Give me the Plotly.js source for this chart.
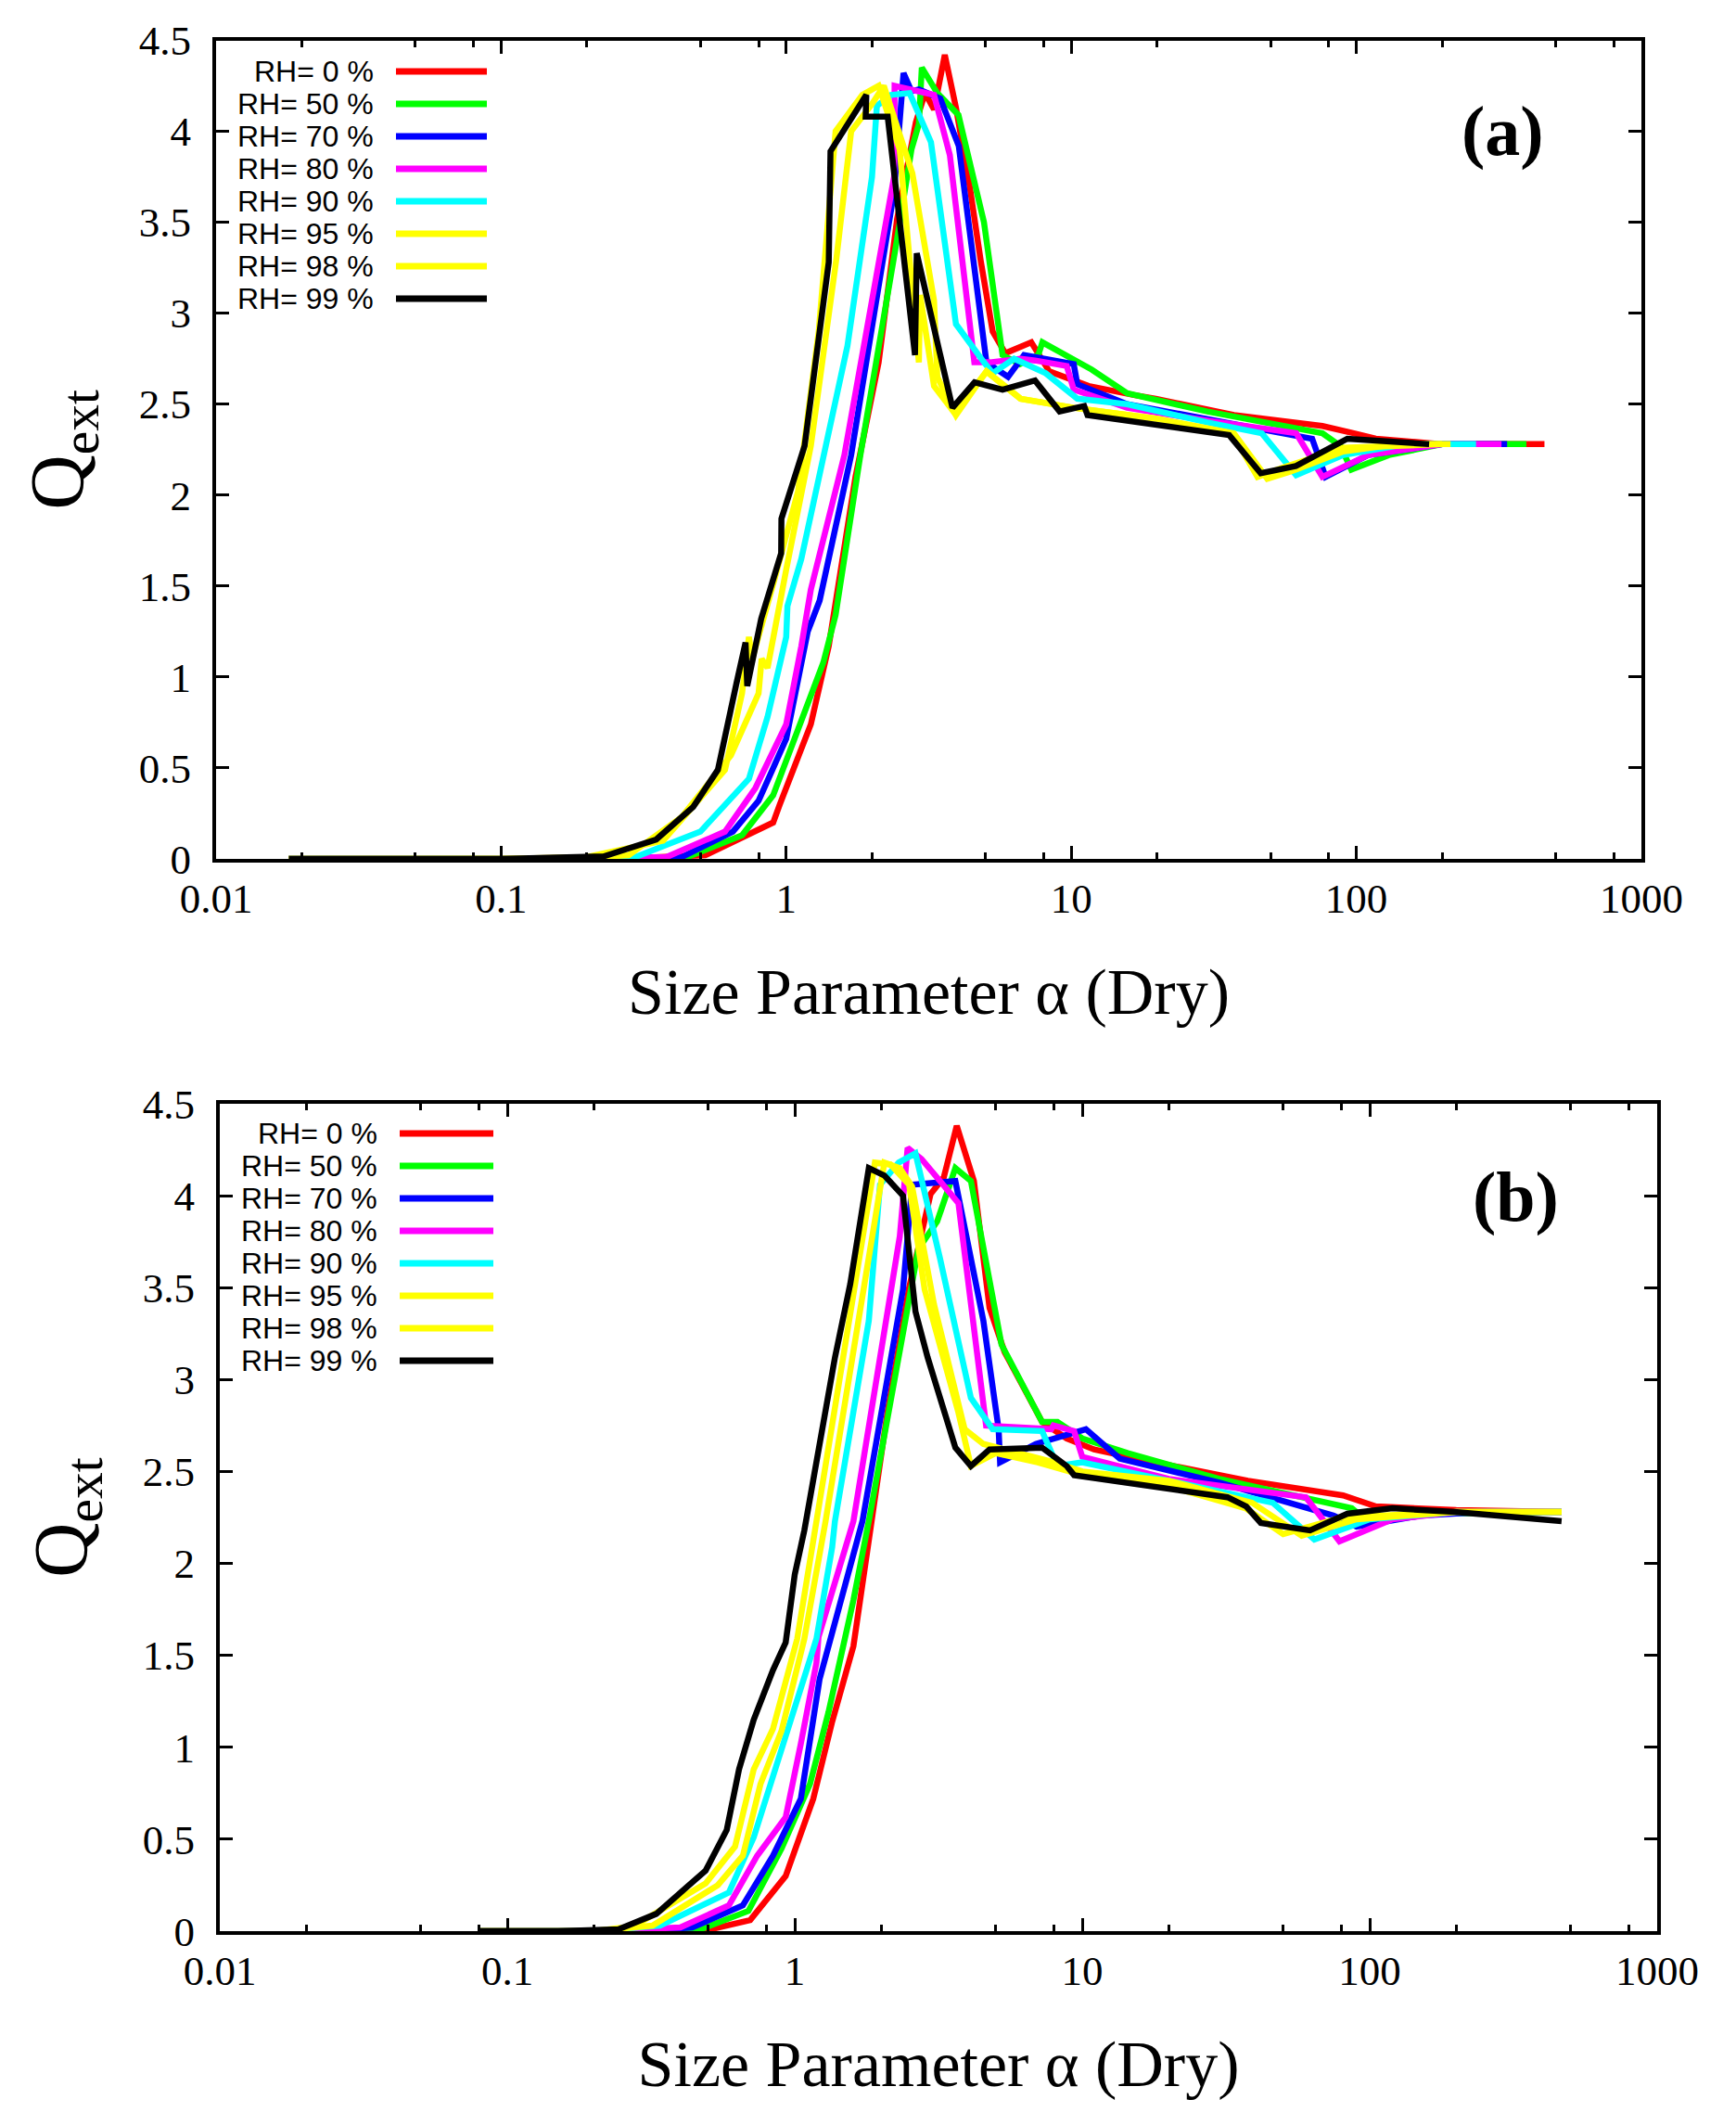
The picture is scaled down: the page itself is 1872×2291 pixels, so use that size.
<!DOCTYPE html>
<html>
<head>
<meta charset="utf-8">
<script src="https://cdn.plot.ly/plotly-3.0.1.min.js"></script>
<style>
  body { margin: 0; background: #fff; }
  #chart { width: 1872px; height: 2291px; }
</style>
</head>
<body>
<div id="chart"></div>
<script>
// legend labels and colours, drawn in this order (red first, black on top)
var rhLabels = ['RH= 0 %', 'RH= 50 %', 'RH= 70 %', 'RH= 80 %', 'RH= 90 %', 'RH= 95 %', 'RH= 98 %', 'RH= 99 %'];
var rhColors = ['#ff0000', '#00ff00', '#0000ff', '#ff00ff', '#00ffff', '#ffff00', '#ffff00', '#000000'];

// x axis ticks (log scale)
var xTickVals = [0.01, 0.1, 1, 10, 100, 1000];
var xTickText = ['0.01', '0.1', '1', '10', '100', '1000'];
var xMinorVals = [0.02, 0.05, 0.08, 0.2, 0.5, 0.8, 2, 5, 8, 20, 50, 80, 200, 500, 800];

// ---- panel (a) ----
var a_rh0_x = [0.018, 0.1, 0.3, 0.52, 0.74, 0.90, 0.95, 1.22, 1.41, 1.49, 1.75, 2.11, 2.45, 2.85, 3.07, 3.3, 3.6, 3.94, 4.4, 4.81, 5.3, 5.87, 6.66, 7.24, 8.37, 11.5, 16.6, 19.8, 37.2, 76, 98, 117, 200, 457];
var a_rh0_y = [0, 0, 0.005, 0.02, 0.13, 0.20, 0.30, 0.74, 1.17, 1.42, 2.1, 2.73, 3.52, 4.05, 4.21, 4.12, 4.42, 4.13, 3.7, 3.29, 2.9, 2.78, 2.82, 2.84, 2.68, 2.6, 2.55, 2.53, 2.44, 2.38, 2.34, 2.31, 2.28, 2.28];

var a_rh50_x = [0.018, 0.1, 0.25, 0.45, 0.70, 0.90, 1.16, 1.35, 1.49, 1.82, 2.45, 2.75, 2.92, 2.99, 3.39, 4.02, 4.94, 5.74, 6.6, 7.66, 7.92, 11.8, 15.7, 30, 76, 88, 96, 130, 200, 395];
var a_rh50_y = [0, 0, 0.005, 0.01, 0.13, 0.35, 0.80, 1.08, 1.34, 2.22, 3.41, 3.9, 4.04, 4.35, 4.21, 4.09, 3.5, 2.77, 2.72, 2.77, 2.84, 2.69, 2.56, 2.46, 2.34, 2.27, 2.14, 2.22, 2.28, 2.28];

var a_rh70_x = [0.018, 0.1, 0.25, 0.43, 0.65, 0.80, 1.0, 1.19, 1.31, 1.69, 2.39, 2.58, 2.75, 2.92, 3.47, 4.03, 5.04, 6.0, 6.83, 10.2, 10.5, 15.7, 30, 70, 78, 110, 200, 338];
var a_rh70_y = [0, 0, 0.005, 0.01, 0.15, 0.32, 0.66, 1.25, 1.42, 2.22, 3.67, 4.32, 4.22, 4.23, 4.18, 3.92, 2.73, 2.65, 2.77, 2.72, 2.61, 2.50, 2.42, 2.31, 2.10, 2.22, 2.28, 2.28];

var a_rh80_x = [0.018, 0.1, 0.22, 0.38, 0.61, 0.78, 1.0, 1.13, 1.22, 1.6, 2.39, 2.40, 2.77, 3.3, 3.75, 4.57, 5.19, 6.64, 7.46, 9.64, 10.2, 15.7, 30, 61.5, 76, 110, 200, 323];
var a_rh80_y = [0, 0, 0.005, 0.01, 0.15, 0.39, 0.74, 1.17, 1.48, 2.22, 3.75, 4.25, 4.23, 4.2, 3.87, 2.73, 2.73, 2.75, 2.74, 2.71, 2.58, 2.48, 2.41, 2.34, 2.10, 2.22, 2.28, 2.28];

var a_rh90_x = [0.018, 0.1, 0.18, 0.30, 0.50, 0.74, 0.86, 1.0, 1.01, 1.13, 1.31, 1.64, 2.0, 2.08, 2.33, 2.71, 3.22, 3.94, 4.94, 5.3, 6.3, 8.13, 10.5, 15.7, 30, 46.6, 61.5, 90, 150, 263];
var a_rh90_y = [0, 0, 0.002, 0.014, 0.15, 0.44, 0.78, 1.22, 1.39, 1.65, 2.10, 2.82, 3.75, 4.14, 4.2, 4.21, 3.94, 2.94, 2.73, 2.67, 2.75, 2.67, 2.53, 2.50, 2.40, 2.34, 2.11, 2.22, 2.28, 2.28];

var a_rh95_x = [0.018, 0.1, 0.17, 0.28, 0.43, 0.64, 0.80, 0.82, 0.86, 1.0, 1.22, 1.5, 1.69, 2.0, 2.2, 2.77, 3.3, 3.39, 3.94, 5.04, 6.64, 10.2, 20, 37.2, 48.7, 59, 90, 140, 214];
var a_rh95_y = [0, 0, 0.002, 0.02, 0.23, 0.57, 0.91, 1.1, 1.05, 1.59, 2.27, 3.3, 4.0, 4.15, 4.25, 3.77, 3.07, 2.65, 2.44, 2.68, 2.53, 2.48, 2.42, 2.34, 2.09, 2.13, 2.24, 2.28, 2.28];

var a_rh98_x = [0.018, 0.1, 0.2, 0.37, 0.61, 0.70, 0.74, 0.76, 0.9, 1.1, 1.3, 1.49, 1.85, 2.11, 2.5, 2.92, 2.95, 3.3, 3.9, 5.04, 6.64, 10.2, 20, 37, 45, 55, 90, 200];
var a_rh98_y = [0, 0, 0.01, 0.1, 0.49, 0.91, 1.22, 1.1, 1.51, 2.02, 2.9, 4.0, 4.2, 4.25, 3.9, 2.73, 3.1, 2.6, 2.45, 2.68, 2.53, 2.48, 2.42, 2.33, 2.1, 2.15, 2.26, 2.28];

var a_rh99_x = [0.018, 0.1, 0.229, 0.35, 0.472, 0.576, 0.669, 0.72, 0.73, 0.817, 0.96, 0.962, 1.16, 1.41, 1.43, 1.91, 1.90, 2.27, 2.83, 2.87, 3.83, 4.58, 5.74, 7.46, 9.1, 11.1, 11.4, 22.8, 35.8, 46.2, 61.4, 93, 180];
var a_rh99_y = [0, 0, 0.014, 0.107, 0.286, 0.49, 0.965, 1.19, 0.95, 1.32, 1.68, 1.87, 2.27, 3.28, 3.89, 4.20, 4.08, 4.08, 2.77, 3.33, 2.48, 2.62, 2.58, 2.63, 2.46, 2.49, 2.44, 2.37, 2.33, 2.12, 2.16, 2.31, 2.28];

// ---- panel (b) ----
var b_rh0_x = [0.08, 0.2, 0.35, 0.51, 0.7, 0.93, 1.16, 1.35, 1.6, 2.10, 2.5, 2.97, 3.3, 3.66, 4.2, 4.76, 5.37, 7.25, 8.83, 11, 16.6, 37.7, 80.8, 105, 200, 465];
var b_rh0_y = [0, 0, 0.003, 0.01, 0.06, 0.30, 0.72, 1.14, 1.55, 2.82, 3.5, 4.01, 4.1, 4.38, 4.08, 3.39, 3.15, 2.77, 2.68, 2.62, 2.56, 2.45, 2.37, 2.31, 2.29, 2.28];

var b_rh50_x = [0.08, 0.2, 0.3, 0.47, 0.69, 0.90, 1.13, 1.31, 1.6, 1.81, 2.44, 2.69, 3.13, 3.62, 4.1, 5.24, 7.25, 8.2, 10, 14.4, 30, 86.6, 100, 160, 465];
var b_rh50_y = [0, 0, 0.003, 0.01, 0.11, 0.45, 0.80, 1.19, 1.8, 2.23, 3.32, 3.71, 3.86, 4.15, 4.08, 3.19, 2.77, 2.77, 2.68, 2.6, 2.46, 2.30, 2.22, 2.27, 2.28];

var b_rh70_x = [0.08, 0.2, 0.3, 0.44, 0.66, 0.84, 1.05, 1.22, 1.5, 1.72, 2.38, 2.56, 3.62, 4.53, 5.12, 5.18, 6.9, 10.3, 13.5, 30, 75, 90, 150, 250, 465];
var b_rh70_y = [0, 0, 0.003, 0.02, 0.14, 0.41, 0.72, 1.37, 1.9, 2.23, 3.49, 4.06, 4.08, 3.32, 2.73, 2.55, 2.65, 2.73, 2.57, 2.44, 2.26, 2.2, 2.26, 2.28, 2.28];

var b_rh80_x = [0.08, 0.2, 0.40, 0.59, 0.74, 0.93, 1.05, 1.19, 1.21, 1.6, 2.32, 2.47, 2.76, 3.71, 4.63, 7.8, 7.94, 9.37, 10.0, 20, 60, 78.5, 120, 200, 465];
var b_rh80_y = [0, 0, 0.02, 0.14, 0.41, 0.62, 1.02, 1.46, 1.6, 2.23, 3.78, 4.26, 4.2, 3.96, 2.75, 2.73, 2.75, 2.72, 2.58, 2.46, 2.36, 2.12, 2.24, 2.28, 2.28];

var b_rh90_x = [0.08, 0.2, 0.34, 0.59, 0.72, 0.88, 1.0, 1.19, 1.35, 1.38, 1.81, 1.98, 2.3, 2.63, 3.2, 4.1, 4.88, 7.25, 8.2, 10, 20, 46, 64.2, 100, 200, 465];
var b_rh90_y = [0, 0, 0.03, 0.21, 0.51, 0.95, 1.22, 1.59, 2.09, 2.23, 3.32, 4.06, 4.18, 4.23, 3.66, 2.90, 2.73, 2.72, 2.53, 2.55, 2.45, 2.33, 2.13, 2.24, 2.28, 2.28];

var b_rh95_x = [0.08, 0.2, 0.32, 0.54, 0.66, 0.76, 0.90, 1.08, 1.28, 1.6, 2.05, 2.32, 2.56, 3.05, 3.9, 4.53, 6, 8, 10, 20, 39, 58, 90, 200, 465];
var b_rh95_y = [0, 0, 0.03, 0.25, 0.41, 0.80, 1.09, 1.59, 2.23, 3.15, 4.18, 4.15, 4.05, 3.41, 2.73, 2.65, 2.6, 2.55, 2.5, 2.45, 2.33, 2.15, 2.24, 2.28, 2.28];

var b_rh98_x = [0.08, 0.2, 0.276, 0.49, 0.62, 0.72, 0.84, 1.02, 1.19, 1.5, 1.90, 2.15, 2.5, 2.83, 3.71, 4.1, 5, 7, 10, 20, 37, 50, 80, 200, 465];
var b_rh98_y = [0, 0, 0.027, 0.26, 0.46, 0.88, 1.1, 1.59, 2.23, 3.2, 4.18, 4.17, 4.06, 3.49, 2.82, 2.53, 2.6, 2.55, 2.48, 2.42, 2.3, 2.16, 2.25, 2.28, 2.28];

var b_rh99_x = [0.08, 0.15, 0.244, 0.33, 0.49, 0.58, 0.64, 0.72, 0.84, 0.93, 1.0, 1.08, 1.38, 1.56, 1.81, 2.05, 2.38, 2.63, 2.90, 3.62, 4.1, 4.76, 7.25, 8.83, 9.37, 14.4, 32, 37.2, 41.8, 62, 83.6, 120, 197, 465];
var b_rh99_y = [0, 0, 0.01, 0.094, 0.33, 0.55, 0.88, 1.15, 1.42, 1.57, 1.94, 2.18, 3.12, 3.52, 4.15, 4.11, 4.0, 3.37, 3.12, 2.63, 2.53, 2.62, 2.63, 2.53, 2.48, 2.44, 2.36, 2.31, 2.22, 2.18, 2.27, 2.30, 2.28, 2.23];

var panelA = [[a_rh0_x, a_rh0_y], [a_rh50_x, a_rh50_y], [a_rh70_x, a_rh70_y], [a_rh80_x, a_rh80_y],
              [a_rh90_x, a_rh90_y], [a_rh95_x, a_rh95_y], [a_rh98_x, a_rh98_y], [a_rh99_x, a_rh99_y]];
var panelB = [[b_rh0_x, b_rh0_y], [b_rh50_x, b_rh50_y], [b_rh70_x, b_rh70_y], [b_rh80_x, b_rh80_y],
              [b_rh90_x, b_rh90_y], [b_rh95_x, b_rh95_y], [b_rh98_x, b_rh98_y], [b_rh99_x, b_rh99_y]];

// page is 1872 x 2291, positions below are in page pixels
var W = 1872, H = 2291;
function px(x) { return x / W; }
function py(y) { return 1 - y / H; }

var serif = 'Liberation Serif, Times New Roman, serif';
var sans = 'Liberation Sans, Arial, sans-serif';

var traces = [];
panelA.forEach(function (s, i) {
    traces.push({ x: s[0], y: s[1], type: 'scatter', mode: 'lines', name: rhLabels[i],
                  xaxis: 'x', yaxis: 'y', line: { color: rhColors[i], width: 6.5 }, showlegend: false });
});
panelB.forEach(function (s, i) {
    traces.push({ x: s[0], y: s[1], type: 'scatter', mode: 'lines', name: rhLabels[i],
                  xaxis: 'x2', yaxis: 'y2', line: { color: rhColors[i], width: 6.5 }, showlegend: false });
});

function xAxis(domain, anchor) {
    return {
        type: 'log', range: [-2, 3], domain: domain, anchor: anchor,
        tickmode: 'array', tickvals: xTickVals, ticktext: xTickText,
        ticks: 'inside', ticklen: 14, tickwidth: 3, tickcolor: '#000',
        minor: { tickvals: xMinorVals, ticks: 'inside', ticklen: 7, tickwidth: 3, tickcolor: '#000', showgrid: false },
        showline: true, linewidth: 4, linecolor: '#000', mirror: 'allticks',
        showgrid: false, zeroline: false, automargin: false,
        tickfont: { family: serif, size: 45, color: '#000' }, ticklabelstandoff: 0,
        title: { text: 'Size Parameter \u03b1 (Dry)', font: { family: serif, size: 70, color: '#000' }, standoff: 52 }
    };
}
function yAxis(domain, anchor) {
    return {
        range: [0, 4.5], domain: domain, anchor: anchor, tick0: 0, dtick: 0.5,
        ticks: 'inside', ticklen: 14, tickwidth: 3, tickcolor: '#000',
        showline: true, linewidth: 4, linecolor: '#000', mirror: 'allticks',
        showgrid: false, zeroline: false, automargin: false,
        tickfont: { family: serif, size: 45, color: '#000' }, ticklabelstandoff: 14,
        title: { text: 'Q<sub>ext</sub>', font: { family: serif, size: 82, color: '#000' }, standoff: 34 }
    };
}

// gnuplot-style key: label right-aligned, sample line to its right
var annotations = [];
var shapes = [];
function addKey(textRight, lineL, lineR, rowTop) {
    rhLabels.forEach(function (lab, i) {
        var yy = rowTop + i * 35;
        annotations.push({ text: lab, xref: 'paper', yref: 'paper', x: px(textRight), y: py(yy),
                           xanchor: 'right', yanchor: 'middle', showarrow: false,
                           font: { family: sans, size: 32, color: '#000' } });
        shapes.push({ type: 'line', xref: 'paper', yref: 'paper', x0: px(lineL), x1: px(lineR),
                      y0: py(yy), y1: py(yy), line: { color: rhColors[i], width: 7 } });
    });
}
addKey(405, 427, 525, 77);
addKey(409, 431, 532, 1222);

annotations.push({ text: '<b>(a)</b>', xref: 'paper', yref: 'paper', x: px(1620), y: py(142),
                   xanchor: 'center', yanchor: 'middle', showarrow: false,
                   font: { family: serif, size: 76, color: '#000' } });
annotations.push({ text: '<b>(b)</b>', xref: 'paper', yref: 'paper', x: px(1634), y: py(1290),
                   xanchor: 'center', yanchor: 'middle', showarrow: false,
                   font: { family: serif, size: 76, color: '#000' } });

var layout = {
    width: W, height: H,
    margin: { l: 0, r: 0, t: 0, b: 0 },
    paper_bgcolor: '#fff', plot_bgcolor: '#fff',
    showlegend: false,
    xaxis: xAxis([px(233), px(1770)], 'y'),
    yaxis: yAxis([py(926), py(43.5)], 'x'),
    xaxis2: xAxis([px(237), px(1787)], 'y2'),
    yaxis2: yAxis([py(2082), py(1190)], 'x2'),
    annotations: annotations,
    shapes: shapes
};

Plotly.newPlot('chart', traces, layout, { staticPlot: true });
</script>
</body>
</html>
